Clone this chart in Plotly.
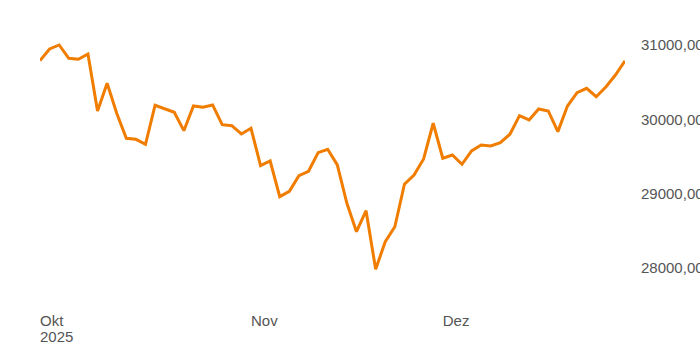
import plotly.graph_objects as go

# Trading days (Oct 3 holiday excluded)
oct_days = ["2025-10-01", "2025-10-02"] + [f"2025-10-{d:02d}" for d in list(range(6, 11)) + list(range(13, 18)) + list(range(20, 25)) + list(range(27, 32))]
nov_days = [f"2025-11-{d:02d}" for d in list(range(3, 8)) + list(range(10, 15)) + list(range(17, 22)) + list(range(24, 29))]
dec_days = [f"2025-12-{d:02d}" for d in list(range(1, 6)) + list(range(8, 13)) + list(range(15, 20)) + list(range(22, 27))]
dates = oct_days + nov_days + dec_days

values = [
    30789, 30946, 31000, 30821, 30808, 30879, 30112, 30485, 30081, 29745,
    29731, 29664, 30189, 30143, 30095, 29847, 30179, 30162, 30193, 29928,
    29914, 29803, 29879, 29376, 29439, 28959, 29032, 29242, 29301, 29551,
    29597, 29386, 28870, 28488, 28771, 27982, 28354, 28555, 29126, 29251,
    29466, 29947, 29476, 29520, 29395, 29574, 29655, 29641, 29686, 29799,
    30049, 29991, 30139, 30112, 29834, 30179, 30358, 30417, 30304, 30435,
    30596, 30785,
]

tick_dates = [oct_days[0], nov_days[0], dec_days[0]]
tick_labels = ["Okt", "Nov", "Dez"]
year_label = "2025"
y_ticks = [28000, 29000, 30000, 31000]

fig = go.Figure(go.Scatter(
    x=dates, y=values, mode="lines",
    line=dict(color="#F07D00", width=3),
    hoverinfo="skip",
))

fig.update_layout(
    width=700, height=350,
    margin=dict(l=40, r=75, t=20, b=50, autoexpand=False),
    paper_bgcolor="white", plot_bgcolor="white",
    showlegend=False,
    separators=",.",
    font=dict(family="Liberation Sans, Arial, sans-serif", size=15, color="#555555"),
)
fig.update_xaxes(
    type="category", range=[0, len(dates) - 1],
    tickvals=tick_dates, ticktext=tick_labels,
    ticklabelposition="outside right",
    showgrid=False, showline=False, zeroline=False, ticks="",
    ticklabelstandoff=10, automargin=False,
)
fig.update_yaxes(
    side="right", range=[27569, 31336],
    tickvals=y_ticks, tickformat=".2f",
    showgrid=False, showline=False, zeroline=False, ticks="",
    ticklabelstandoff=15, automargin=False,
)
fig.add_annotation(
    x=tick_dates[0], y=0, yref="paper", text=year_label,
    showarrow=False, xanchor="left", yanchor="top", yshift=-26, xshift=-2,
    font=dict(size=15, color="#555555"),
)

fig.write_html("out.html")
